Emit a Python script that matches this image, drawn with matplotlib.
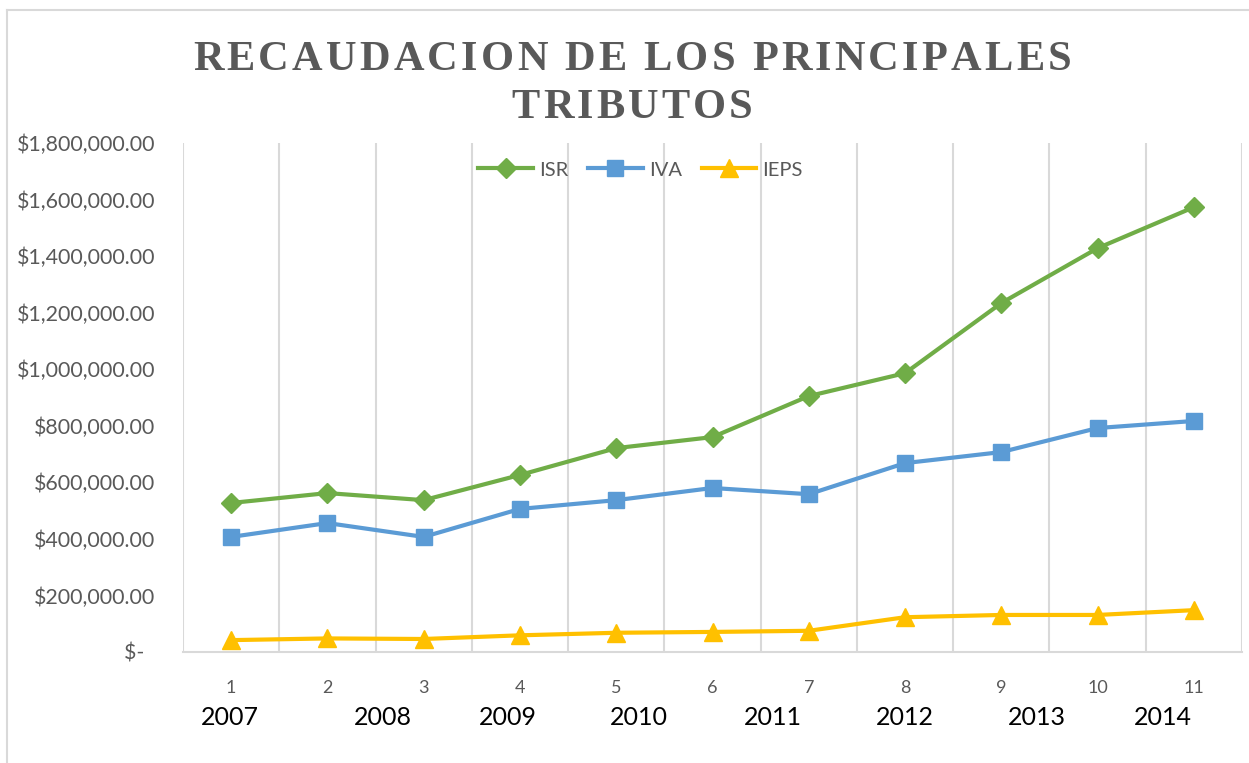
import matplotlib
matplotlib.use("Agg")
import matplotlib.pyplot as plt
from matplotlib.font_manager import FontProperties
from matplotlib.textpath import TextToPath
from matplotlib.transforms import IdentityTransform
from matplotlib.lines import Line2D

# Data (miles de pesos)
periods = [1, 2, 3, 4, 5, 6, 7, 8, 9, 10, 11]
isr = [527000, 562000, 537000, 626000, 721000, 760000, 905000, 986000, 1234000, 1428000, 1573000]
iva = [407000, 456000, 407000, 506000, 537000, 580000, 558000, 668000, 707000, 792000, 817000]
ieps = [42000, 48000, 46000, 59000, 68000, 71000, 75000, 123000, 131000, 131000, 148000]
years = ["2007", "2008", "2009", "2010", "2011", "2012", "2013", "2014"]
year_pos = [0.99, 2.58, 3.87, 5.24, 6.63, 8.0, 9.37, 10.68]
y_ticks = [0, 200000, 400000, 600000, 800000, 1000000, 1200000, 1400000, 1600000, 1800000]

W, H, DPI = 1249, 763, 100
GRAY_TXT = "#595959"
GRID = "#D9D9D9"

fig = plt.figure(figsize=(W / DPI, H / DPI), dpi=DPI)
fig.patch.set_facecolor("white")

# chart frame (left and top edges visible)
fig.add_artist(Line2D([7 / W, 7 / W], [0, 1 - 10 / H], color=GRID, lw=1.5, transform=fig.transFigure))
fig.add_artist(Line2D([7 / W, 1], [1 - 10 / H, 1 - 10 / H], color=GRID, lw=1.5, transform=fig.transFigure))

ax = fig.add_axes([183 / W, (H - 652) / H, (1242 - 183) / W, (652 - 143) / H])

ax.plot(periods, isr, color="#70AD47", lw=3, marker="D", ms=10, label="ISR", zorder=3)
ax.plot(periods, iva, color="#5B9BD5", lw=3, marker="s", ms=12, label="IVA", zorder=3)
ax.plot(periods, ieps, color="#FFC000", lw=3, marker="^", ms=13, label="IEPS", zorder=3)

ax.set_xlim(0.5, 11.5)
ax.set_ylim(0, 1800000)

# vertical gridlines between categories
for b in [i + 0.5 for i in range(0, 12)]:
    ax.axvline(b, color=GRID, lw=1.5, zorder=1)

for s in ["top", "right", "left"]:
    ax.spines[s].set_visible(False)
ax.spines["bottom"].set_color(GRID)
ax.spines["bottom"].set_linewidth(1.5)

ax.set_yticks(y_ticks)
ax.set_yticklabels(["$-  "] + ["${:,.2f}".format(v) for v in y_ticks[1:]])
ax.tick_params(axis="y", length=0, pad=20, labelsize=15.4, labelcolor=GRAY_TXT)
for lbl in ax.get_yticklabels():
    lbl.set_family("Lato")

ax.set_xticks(periods)
ax.set_xticklabels([str(p) for p in periods])
ax.tick_params(axis="x", length=0, pad=20, labelsize=13, labelcolor=GRAY_TXT)
for lbl in ax.get_xticklabels():
    lbl.set_family("Lato")

# year captions under the period numbers
for yr, xp in zip(years, year_pos):
    ax.text(xp, -0.128, yr, transform=ax.get_xaxis_transform(), ha="center", va="center",
            fontsize=18, family="Lato", color="black")

leg = ax.legend(loc="center", bbox_to_anchor=(0.432, 0.947), ncol=3, frameon=False,
                handlelength=2.7, handletextpad=0.3, columnspacing=1.0,
                prop=FontProperties(family="Lato", size=14.5))
for t in leg.get_texts():
    t.set_color(GRAY_TXT)

# title with wide letter spacing
fp = FontProperties(family="Liberation Serif", weight="bold", size=30.5)
ttp = TextToPath()


def char_widths(s):
    return [ttp.get_text_width_height_descent(c, fp, ismath=False)[0] * DPI / 72 for c in s]


line1 = "RECAUDACION DE LOS PRINCIPALES"
line2 = "TRIBUTOS"
w1 = char_widths(line1)
track = (878 - sum(w1)) / (len(line1) - 1)


def draw_tracked(s, xc, yc):
    ws = char_widths(s)
    total = sum(ws) + track * (len(s) - 1)
    x = xc - total / 2
    for c, w in zip(s, ws):
        fig.text(x, H - yc, c, transform=IdentityTransform(), ha="left", va="baseline",
                 fontproperties=fp, color=GRAY_TXT)
        x += w + track


draw_tracked(line1, 632, 70)
draw_tracked(line2, 632, 118)

fig.savefig("out.png", dpi=DPI, facecolor="white")
